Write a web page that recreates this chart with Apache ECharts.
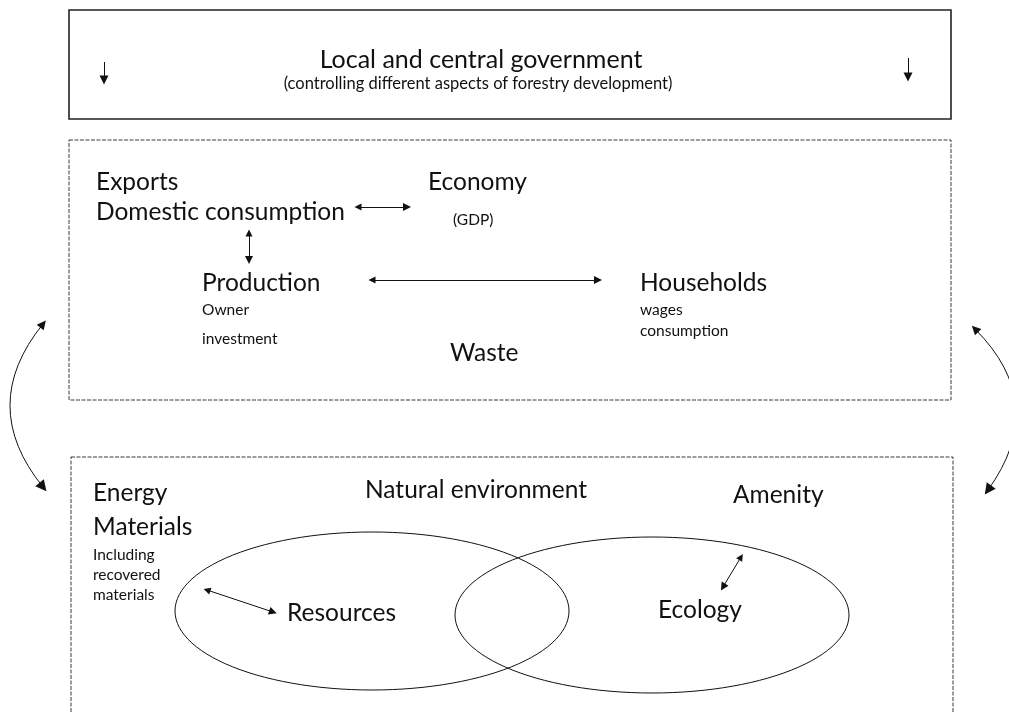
<!DOCTYPE html>
<html>
<head>
<meta charset="utf-8">
<title>Forestry development</title>
<script src="https://cdn.jsdelivr.net/npm/echarts@6/dist/echarts.min.js"></script>
<style>
  html, body { margin: 0; padding: 0; background: #fff; }
  #chart { width: 1009px; height: 713px; }
</style>
</head>
<body>
<div id="chart"></div>
<script>
// Diagram coordinates (same units as the hidden value axes)
const labelNames = [
    'Local and central government',
    '(controlling different aspects of forestry development)',
    'Exports', 'Domestic consumption', 'Economy', '(GDP)',
    'Production', 'Owner', 'investment', 'Households', 'wages', 'consumption', 'Waste',
    'Energy', 'Materials', 'Including', 'recovered', 'materials',
    'Natural environment', 'Amenity', 'Resources', 'Ecology'
];
const labelX = [481, 478, 96, 96, 428, 453, 202, 202, 202, 640, 640, 640, 450, 93, 93, 93, 93, 93, 365, 733, 287, 658];
const labelY = [60, 84, 182, 212, 182, 220, 283, 310, 339, 283, 310, 331, 353, 493, 527, 555, 575, 595, 490, 495, 613, 610];
// 0 = heading (centred), 1 = note (centred), 2 = main label, 3 = small note
const labelKind = [0, 1, 2, 2, 2, 3, 2, 3, 3, 2, 3, 3, 2, 2, 2, 3, 3, 3, 2, 2, 2, 2];

// Boxes: [x1, y1, x2, y2, dashed]
const boxes = [
    [69, 10, 951, 119, 0],
    [69, 140, 951, 400, 1],
    [71, 457, 953, 720, 1]
];

// Ellipses: [cx, cy, rx, ry]
const ellipses = [
    [372, 611, 197, 79],
    [652, 615, 197, 78]
];

// Arrows
const downArrows = [
    [[104, 62], [104, 80]],
    [[908, 58], [908, 77]]
];
const doubleArrows = [
    [[358, 207], [407, 207]],
    [[249, 233], [249, 260]],
    [[372, 280], [598, 280]],
    [[207, 590], [273, 612]],
    [[741, 557], [723, 587]]
];
const curvedArrows = [
    [[43, 324], [43, 487], -0.405],
    [[975, 329], [988, 490], 0.425]
];

const fontFamily = 'Lato, "Open Sans", sans-serif';
const fontSizes = [25, 16.5, 24.5, 15.5];

const chart = echarts.init(document.getElementById('chart'));

const option = {
    backgroundColor: '#fff',
    animation: false,
    grid: { left: 0, right: 0, top: 0, bottom: 0 },
    xAxis: { type: 'value', min: 0, max: 1009, show: false },
    yAxis: { type: 'value', min: 0, max: 713, inverse: true, show: false },
    series: [
        {
            name: 'boxes',
            type: 'custom',
            data: boxes,
            renderItem: function (params, api) {
                const p1 = api.coord([api.value(0), api.value(1)]);
                const p2 = api.coord([api.value(2), api.value(3)]);
                const dashed = api.value(4) === 1;
                return {
                    type: 'rect',
                    shape: { x: p1[0], y: p1[1], width: p2[0] - p1[0], height: p2[1] - p1[1] },
                    style: {
                        fill: 'none',
                        stroke: dashed ? '#3a3a3a' : '#222',
                        lineWidth: dashed ? 1 : 1.6,
                        lineDash: dashed ? [4, 1.5] : null
                    }
                };
            }
        },
        {
            name: 'ellipses',
            type: 'custom',
            data: ellipses,
            renderItem: function (params, api) {
                const cx = api.value(0), cy = api.value(1);
                const rx = api.value(2), ry = api.value(3);
                const pts = [];
                for (let i = 0; i < 120; i++) {
                    const t = i / 120 * Math.PI * 2;
                    pts.push(api.coord([cx + rx * Math.cos(t), cy + ry * Math.sin(t)]));
                }
                return {
                    type: 'polygon',
                    shape: { points: pts },
                    style: { fill: 'none', stroke: '#111', lineWidth: 1 }
                };
            }
        },
        {
            name: 'downArrows',
            type: 'lines',
            coordinateSystem: 'cartesian2d',
            symbol: ['none', 'triangle'],
            symbolSize: [7, 9],
            lineStyle: { color: '#111', width: 1, opacity: 1 },
            data: downArrows.map(c => ({ coords: c }))
        },
        {
            name: 'doubleArrows',
            type: 'lines',
            coordinateSystem: 'cartesian2d',
            symbol: ['triangle', 'triangle'],
            symbolSize: [7, 8],
            lineStyle: { color: '#111', width: 1, opacity: 1 },
            data: doubleArrows.map(c => ({ coords: c }))
        },
        {
            name: 'curvedArrows',
            type: 'lines',
            coordinateSystem: 'cartesian2d',
            clip: false,
            symbol: ['triangle', 'triangle'],
            symbolSize: [9, 11],
            lineStyle: { color: '#111', width: 1, opacity: 1 },
            data: curvedArrows.map(c => ({
                coords: [c[0], c[1]],
                lineStyle: { curveness: c[2] }
            }))
        },
        {
            name: 'labels',
            type: 'custom',
            data: labelNames.map((n, i) => [labelX[i], labelY[i], labelKind[i]]),
            renderItem: function (params, api) {
                const p = api.coord([api.value(0), api.value(1)]);
                const kind = api.value(2);
                return {
                    type: 'text',
                    x: p[0],
                    y: p[1],
                    style: {
                        text: labelNames[params.dataIndex],
                        fill: '#111',
                        font: fontSizes[kind] + 'px ' + fontFamily,
                        align: kind < 2 ? 'center' : 'left',
                        verticalAlign: 'middle'
                    }
                };
            }
        }
    ]
};

chart.setOption(option);
</script>
</body>
</html>
